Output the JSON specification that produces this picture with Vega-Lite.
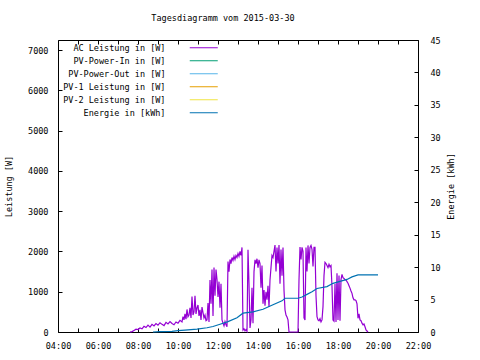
{
  "$schema": "https://vega.github.io/schema/vega-lite/v6.json",
  "width": 360,
  "height": 292,
  "autosize": {"type": "none"},
  "padding": {"left": 58, "top": 40, "right": 62, "bottom": 28},
  "background": "white",
  "title": {"text": "Tagesdiagramm vom 2015-03-30", "font": "DejaVu Sans Mono", "fontSize": 8.5, "fontWeight": "normal", "color": "black", "anchor": "middle", "dx": -15, "offset": 14},
  "config": {
    "view": {"stroke": "black", "strokeWidth": 1},
    "axis": {"labelFont": "DejaVu Sans Mono", "labelFontSize": 8.5, "labelColor": "black", "titleFont": "DejaVu Sans Mono", "titleFontSize": 8.5, "titleFontWeight": "normal", "titleColor": "black", "grid": false, "domain": false, "tickColor": "black", "tickSize": -4, "tickWidth": 1},
    "legend": {"orient": "none", "legendX": 141.5, "legendY": 3.5, "padding": 0, "title": null, "labelFont": "DejaVu Sans Mono", "labelFontSize": 8.5, "labelColor": "black", "labelAlign": "right", "labelOffset": -42.5, "symbolType": "M-4,0H4", "symbolSize": 49, "symbolStrokeWidth": 1, "rowPadding": 4, "labelLimit": 300}
  },
  "datasets": {
    "ac": [
      {"t": "2015-03-30T07:36", "p": 0}, {"t": "2015-03-30T07:42", "p": 10}, {"t": "2015-03-30T07:48", "p": 40}, {"t": "2015-03-30T07:54", "p": 70},
      {"t": "2015-03-30T08:00", "p": 60}, {"t": "2015-03-30T08:06", "p": 100}, {"t": "2015-03-30T08:12", "p": 80}, {"t": "2015-03-30T08:18", "p": 140},
      {"t": "2015-03-30T08:24", "p": 110}, {"t": "2015-03-30T08:30", "p": 170}, {"t": "2015-03-30T08:36", "p": 120}, {"t": "2015-03-30T08:42", "p": 190},
      {"t": "2015-03-30T08:48", "p": 150}, {"t": "2015-03-30T08:54", "p": 210}, {"t": "2015-03-30T09:00", "p": 170}, {"t": "2015-03-30T09:06", "p": 230},
      {"t": "2015-03-30T09:12", "p": 190}, {"t": "2015-03-30T09:18", "p": 160}, {"t": "2015-03-30T09:24", "p": 240}, {"t": "2015-03-30T09:30", "p": 200},
      {"t": "2015-03-30T09:36", "p": 260}, {"t": "2015-03-30T09:42", "p": 210}, {"t": "2015-03-30T09:48", "p": 180}, {"t": "2015-03-30T09:54", "p": 250},
      {"t": "2015-03-30T10:00", "p": 220}, {"t": "2015-03-30T10:06", "p": 290}, {"t": "2015-03-30T10:12", "p": 250}, {"t": "2015-03-30T10:15", "p": 380},
      {"t": "2015-03-30T10:18", "p": 300}, {"t": "2015-03-30T10:21", "p": 450}, {"t": "2015-03-30T10:24", "p": 320}, {"t": "2015-03-30T10:27", "p": 560},
      {"t": "2015-03-30T10:30", "p": 380}, {"t": "2015-03-30T10:33", "p": 420}, {"t": "2015-03-30T10:36", "p": 600}, {"t": "2015-03-30T10:39", "p": 350},
      {"t": "2015-03-30T10:42", "p": 880}, {"t": "2015-03-30T10:45", "p": 420}, {"t": "2015-03-30T10:48", "p": 500}, {"t": "2015-03-30T10:51", "p": 900},
      {"t": "2015-03-30T10:54", "p": 450}, {"t": "2015-03-30T10:57", "p": 600}, {"t": "2015-03-30T11:00", "p": 670}, {"t": "2015-03-30T11:03", "p": 400},
      {"t": "2015-03-30T11:06", "p": 550}, {"t": "2015-03-30T11:09", "p": 300}, {"t": "2015-03-30T11:12", "p": 620}, {"t": "2015-03-30T11:15", "p": 480},
      {"t": "2015-03-30T11:18", "p": 350}, {"t": "2015-03-30T11:21", "p": 420}, {"t": "2015-03-30T11:24", "p": 280}, {"t": "2015-03-30T11:27", "p": 300},
      {"t": "2015-03-30T11:30", "p": 720}, {"t": "2015-03-30T11:33", "p": 250}, {"t": "2015-03-30T11:36", "p": 1290}, {"t": "2015-03-30T11:39", "p": 700},
      {"t": "2015-03-30T11:42", "p": 1550}, {"t": "2015-03-30T11:45", "p": 400}, {"t": "2015-03-30T11:48", "p": 1600}, {"t": "2015-03-30T11:51", "p": 900},
      {"t": "2015-03-30T11:54", "p": 1550}, {"t": "2015-03-30T11:57", "p": 1300}, {"t": "2015-03-30T12:00", "p": 870}, {"t": "2015-03-30T12:03", "p": 1250},
      {"t": "2015-03-30T12:06", "p": 600}, {"t": "2015-03-30T12:09", "p": 1200}, {"t": "2015-03-30T12:12", "p": 300}, {"t": "2015-03-30T12:15", "p": 220},
      {"t": "2015-03-30T12:18", "p": 150}, {"t": "2015-03-30T12:21", "p": 260}, {"t": "2015-03-30T12:24", "p": 180}, {"t": "2015-03-30T12:27", "p": 130},
      {"t": "2015-03-30T12:30", "p": 1750}, {"t": "2015-03-30T12:33", "p": 1500}, {"t": "2015-03-30T12:36", "p": 1800}, {"t": "2015-03-30T12:39", "p": 1700},
      {"t": "2015-03-30T12:42", "p": 1850}, {"t": "2015-03-30T12:45", "p": 1780}, {"t": "2015-03-30T12:48", "p": 1880}, {"t": "2015-03-30T12:51", "p": 1800},
      {"t": "2015-03-30T12:54", "p": 1900}, {"t": "2015-03-30T12:57", "p": 1850}, {"t": "2015-03-30T13:00", "p": 1950}, {"t": "2015-03-30T13:03", "p": 1880},
      {"t": "2015-03-30T13:06", "p": 2000}, {"t": "2015-03-30T13:09", "p": 1900}, {"t": "2015-03-30T13:12", "p": 2100}, {"t": "2015-03-30T13:15", "p": 50},
      {"t": "2015-03-30T13:18", "p": 80}, {"t": "2015-03-30T13:21", "p": 30}, {"t": "2015-03-30T13:24", "p": 60}, {"t": "2015-03-30T13:27", "p": 20},
      {"t": "2015-03-30T13:30", "p": 2040}, {"t": "2015-03-30T13:33", "p": 1200}, {"t": "2015-03-30T13:36", "p": 100}, {"t": "2015-03-30T13:39", "p": 300},
      {"t": "2015-03-30T13:42", "p": 1100}, {"t": "2015-03-30T13:45", "p": 220}, {"t": "2015-03-30T13:48", "p": 1500}, {"t": "2015-03-30T13:51", "p": 1790},
      {"t": "2015-03-30T13:54", "p": 1700}, {"t": "2015-03-30T13:57", "p": 1820}, {"t": "2015-03-30T14:00", "p": 1600}, {"t": "2015-03-30T14:03", "p": 1790},
      {"t": "2015-03-30T14:06", "p": 1700}, {"t": "2015-03-30T14:09", "p": 1100}, {"t": "2015-03-30T14:12", "p": 1650}, {"t": "2015-03-30T14:15", "p": 700},
      {"t": "2015-03-30T14:18", "p": 1040}, {"t": "2015-03-30T14:21", "p": 650}, {"t": "2015-03-30T14:24", "p": 1000}, {"t": "2015-03-30T14:27", "p": 800},
      {"t": "2015-03-30T14:30", "p": 1150}, {"t": "2015-03-30T14:33", "p": 620}, {"t": "2015-03-30T14:36", "p": 1290}, {"t": "2015-03-30T14:39", "p": 1600},
      {"t": "2015-03-30T14:42", "p": 1900}, {"t": "2015-03-30T14:45", "p": 1850}, {"t": "2015-03-30T14:48", "p": 2000}, {"t": "2015-03-30T14:51", "p": 2160},
      {"t": "2015-03-30T14:54", "p": 1500}, {"t": "2015-03-30T14:57", "p": 2100}, {"t": "2015-03-30T15:00", "p": 1700}, {"t": "2015-03-30T15:03", "p": 2160},
      {"t": "2015-03-30T15:06", "p": 1200}, {"t": "2015-03-30T15:09", "p": 2050}, {"t": "2015-03-30T15:12", "p": 1400}, {"t": "2015-03-30T15:15", "p": 2100},
      {"t": "2015-03-30T15:18", "p": 1040}, {"t": "2015-03-30T15:21", "p": 550}, {"t": "2015-03-30T15:24", "p": 420}, {"t": "2015-03-30T15:27", "p": 370},
      {"t": "2015-03-30T15:30", "p": 300}, {"t": "2015-03-30T15:33", "p": 0}, {"t": "2015-03-30T15:45", "p": 0}, {"t": "2015-03-30T16:00", "p": 0},
      {"t": "2015-03-30T16:03", "p": 1300}, {"t": "2015-03-30T16:06", "p": 2110}, {"t": "2015-03-30T16:09", "p": 1800}, {"t": "2015-03-30T16:12", "p": 2100},
      {"t": "2015-03-30T16:15", "p": 2000}, {"t": "2015-03-30T16:18", "p": 350}, {"t": "2015-03-30T16:21", "p": 300}, {"t": "2015-03-30T16:24", "p": 2100},
      {"t": "2015-03-30T16:27", "p": 1500}, {"t": "2015-03-30T16:30", "p": 2150}, {"t": "2015-03-30T16:33", "p": 1700}, {"t": "2015-03-30T16:36", "p": 2100},
      {"t": "2015-03-30T16:39", "p": 2150}, {"t": "2015-03-30T16:42", "p": 2050}, {"t": "2015-03-30T16:45", "p": 1630}, {"t": "2015-03-30T16:48", "p": 2100},
      {"t": "2015-03-30T16:51", "p": 2100}, {"t": "2015-03-30T16:54", "p": 900}, {"t": "2015-03-30T16:57", "p": 380}, {"t": "2015-03-30T17:00", "p": 300},
      {"t": "2015-03-30T17:03", "p": 280}, {"t": "2015-03-30T17:06", "p": 330}, {"t": "2015-03-30T17:09", "p": 250}, {"t": "2015-03-30T17:12", "p": 300},
      {"t": "2015-03-30T17:15", "p": 630}, {"t": "2015-03-30T17:18", "p": 1400}, {"t": "2015-03-30T17:21", "p": 1730}, {"t": "2015-03-30T17:24", "p": 1700},
      {"t": "2015-03-30T17:27", "p": 1650}, {"t": "2015-03-30T17:30", "p": 1600}, {"t": "2015-03-30T17:33", "p": 1680}, {"t": "2015-03-30T17:36", "p": 1620},
      {"t": "2015-03-30T17:39", "p": 1650}, {"t": "2015-03-30T17:42", "p": 1130}, {"t": "2015-03-30T17:45", "p": 300}, {"t": "2015-03-30T17:48", "p": 270},
      {"t": "2015-03-30T17:51", "p": 1200}, {"t": "2015-03-30T17:54", "p": 250}, {"t": "2015-03-30T17:57", "p": 1460}, {"t": "2015-03-30T18:00", "p": 300},
      {"t": "2015-03-30T18:03", "p": 1400}, {"t": "2015-03-30T18:06", "p": 280}, {"t": "2015-03-30T18:09", "p": 1300}, {"t": "2015-03-30T18:12", "p": 1430},
      {"t": "2015-03-30T18:15", "p": 1350}, {"t": "2015-03-30T18:18", "p": 1330}, {"t": "2015-03-30T18:21", "p": 1300}, {"t": "2015-03-30T18:24", "p": 1290},
      {"t": "2015-03-30T18:27", "p": 1250}, {"t": "2015-03-30T18:30", "p": 1210}, {"t": "2015-03-30T18:33", "p": 1150}, {"t": "2015-03-30T18:36", "p": 1090},
      {"t": "2015-03-30T18:39", "p": 1020}, {"t": "2015-03-30T18:42", "p": 960}, {"t": "2015-03-30T18:45", "p": 850}, {"t": "2015-03-30T18:48", "p": 800},
      {"t": "2015-03-30T18:51", "p": 800}, {"t": "2015-03-30T18:54", "p": 780}, {"t": "2015-03-30T18:57", "p": 700}, {"t": "2015-03-30T19:00", "p": 340},
      {"t": "2015-03-30T19:03", "p": 450}, {"t": "2015-03-30T19:06", "p": 300}, {"t": "2015-03-30T19:09", "p": 280}, {"t": "2015-03-30T19:12", "p": 220},
      {"t": "2015-03-30T19:15", "p": 180}, {"t": "2015-03-30T19:18", "p": 200}, {"t": "2015-03-30T19:21", "p": 130}, {"t": "2015-03-30T19:24", "p": 50},
      {"t": "2015-03-30T19:27", "p": 25}, {"t": "2015-03-30T19:30", "p": 0}
    ],
    "en": [
      {"t": "2015-03-30T08:45", "e": 0}, {"t": "2015-03-30T09:06", "e": 0.05}, {"t": "2015-03-30T09:42", "e": 0.1}, {"t": "2015-03-30T10:00", "e": 0.2},
      {"t": "2015-03-30T10:21", "e": 0.3}, {"t": "2015-03-30T10:57", "e": 0.45}, {"t": "2015-03-30T11:27", "e": 0.65}, {"t": "2015-03-30T11:45", "e": 0.85},
      {"t": "2015-03-30T12:06", "e": 1.2}, {"t": "2015-03-30T12:30", "e": 1.6}, {"t": "2015-03-30T12:57", "e": 2.2}, {"t": "2015-03-30T13:15", "e": 2.9},
      {"t": "2015-03-30T13:45", "e": 3.1}, {"t": "2015-03-30T14:15", "e": 3.5}, {"t": "2015-03-30T14:45", "e": 4.2}, {"t": "2015-03-30T15:12", "e": 4.8},
      {"t": "2015-03-30T15:21", "e": 5.2}, {"t": "2015-03-30T16:00", "e": 5.2}, {"t": "2015-03-30T16:12", "e": 5.4}, {"t": "2015-03-30T16:27", "e": 5.8},
      {"t": "2015-03-30T16:42", "e": 6.2}, {"t": "2015-03-30T16:57", "e": 6.7}, {"t": "2015-03-30T17:27", "e": 7.0}, {"t": "2015-03-30T17:45", "e": 7.5},
      {"t": "2015-03-30T18:06", "e": 7.8}, {"t": "2015-03-30T18:27", "e": 8.1}, {"t": "2015-03-30T18:42", "e": 8.5}, {"t": "2015-03-30T19:00", "e": 8.8},
      {"t": "2015-03-30T20:00", "e": 8.8}
    ]
  },
  "layer": [
    {
      "data": {"name": "ac"},
      "mark": {"type": "line", "strokeWidth": 1.2},
      "encoding": {
        "x": {"field": "t", "type": "temporal", "scale": {"domain": [{"year": 2015, "month": 3, "date": 30, "hours": 4}, {"year": 2015, "month": 3, "date": 30, "hours": 22}]},
              "axis": {"orient": "bottom", "title": null, "tickCount": 18, "labelExpr": "hours(datum.value) % 2 == 0 ? timeFormat(datum.value, '%H:%M') : ''", "labelPadding": 13, "labelFlush": false, "labelOverlap": false}},
        "y": {"field": "p", "type": "quantitative", "scale": {"domain": [0, 7250], "nice": false},
              "axis": {"orient": "left", "values": [0, 1000, 2000, 3000, 4000, 5000, 6000, 7000], "format": "d", "title": "Leistung [W]", "labelPadding": 14, "titlePadding": 14}},
        "color": {"datum": "AC Leistung in [W]", "type": "nominal",
                  "scale": {"domain": ["AC Leistung in [W]", "PV-Power-In in [W]", "PV-Power-Out in [W]", "PV-1 Leistung in [W]", "PV-2 Leistung in [W]", "Energie in [kWh]"],
                            "range": ["#9400d3", "#009e73", "#56b4e9", "#e69f00", "#f0e442", "#0072b2"]}}
      }
    },
    {
      "data": {"name": "en"},
      "mark": {"type": "line", "strokeWidth": 1.2},
      "encoding": {
        "x": {"field": "t", "type": "temporal",
              "axis": {"orient": "top", "title": null, "labels": false, "tickCount": 18}},
        "y": {"field": "e", "type": "quantitative", "scale": {"domain": [0, 45], "nice": false},
              "axis": {"orient": "right", "values": [0, 5, 10, 15, 20, 25, 30, 35, 40, 45], "title": "Energie [kWh]", "titleAngle": 270, "labelPadding": 16, "titlePadding": 15}},
        "color": {"datum": "Energie in [kWh]", "type": "nominal"}
      }
    }
  ],
  "resolve": {"scale": {"y": "independent"}, "axis": {"x": "independent"}}
}
